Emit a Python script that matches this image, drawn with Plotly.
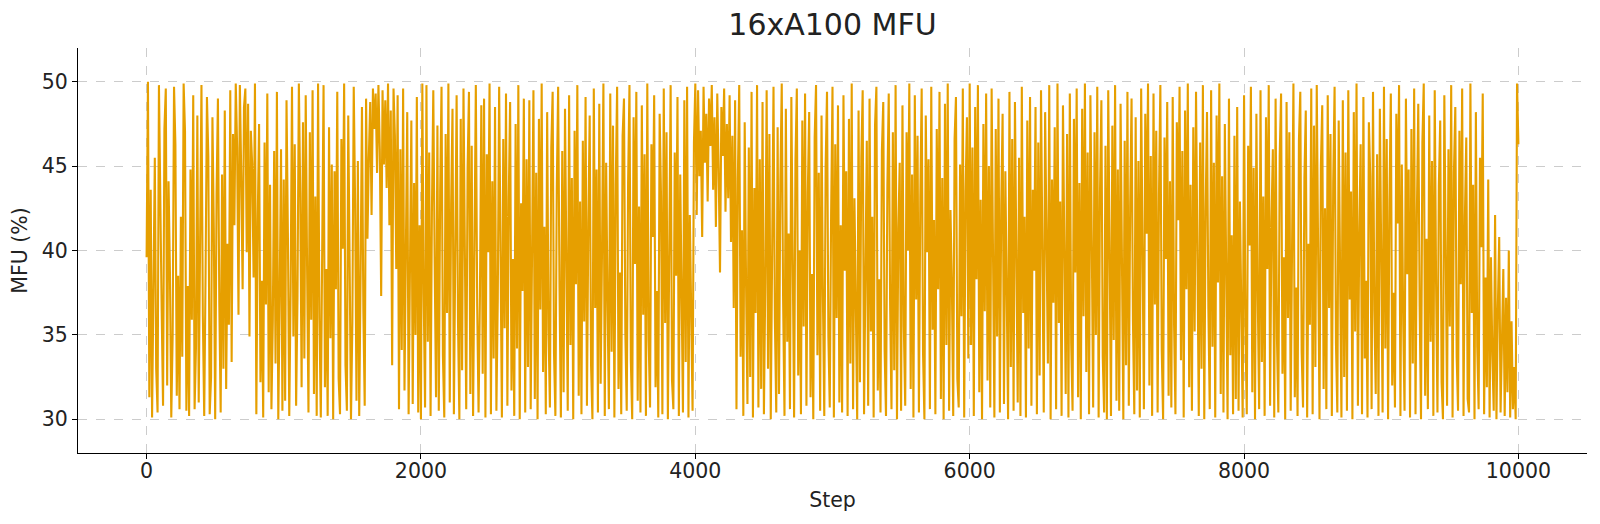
import numpy as np
import plotly.graph_objects as go

title_text = "16xA100 MFU"
x_label = "Step"
y_label = "MFU (%)"
x_ticks = [0, 2000, 4000, 6000, 8000, 10000]
y_ticks = [30, 35, 40, 45, 50]

# MFU (%), one value every 10 steps (0 .. 10000)
mfu = [
    39.6, 50.0, 31.3, 43.6, 30.1, 36.2, 45.5, 33.0, 30.4, 49.8, 41.2, 36.4, 30.8, 47.2, 49.6, 32.0, 44.1, 38.8, 30.1, 35.0, 49.7, 46.3, 31.4, 38.5, 30.6,
    42.0, 33.7, 49.9, 47.1, 30.5, 37.9, 30.2, 44.8, 35.9, 49.2, 30.6, 34.3, 48.0, 31.0, 43.0, 49.8, 36.1, 30.2, 38.7, 49.1, 45.6, 30.3, 32.5, 47.9, 41.3,
    30.0, 43.3, 49.0, 36.9, 30.4, 44.5, 33.0, 48.3, 31.8, 40.4, 35.6, 49.5, 33.4, 46.9, 41.5, 49.9, 46.1, 36.2, 49.8, 44.4, 37.7, 48.5, 49.6, 39.9, 48.7,
    34.9, 47.1, 45.0, 38.4, 49.9, 30.3, 41.7, 47.5, 32.2, 38.2, 30.1, 46.4, 36.8, 49.3, 31.6, 43.9, 30.6, 35.8, 45.9, 33.3, 49.4, 30.0, 37.1, 46.0, 30.5,
    44.2, 31.1, 48.9, 41.0, 30.2, 37.6, 49.7, 34.9, 46.3, 30.8, 37.2, 49.9, 43.4, 31.9, 47.6, 33.6, 49.2, 39.0, 30.4, 47.0, 35.9, 49.5, 31.5, 43.2, 30.2,
    49.9, 36.0, 30.1, 42.3, 49.8, 31.9, 38.9, 30.2, 47.3, 34.8, 45.1, 30.0, 44.7, 37.7, 49.4, 32.4, 30.3, 46.6, 40.1, 49.9, 33.2, 30.5, 48.0, 39.4, 30.0,
    35.7, 49.7, 42.8, 31.1, 45.3, 30.2, 38.5, 48.5, 36.5, 30.8, 49.0, 40.7, 45.5, 48.8, 42.1, 49.6, 47.2, 49.3, 44.6, 49.8, 46.0, 37.3, 49.5, 45.1, 48.9,
    43.7, 49.9, 41.5, 48.3, 33.2, 49.6, 46.8, 38.9, 49.2, 30.6, 46.0, 34.1, 49.6, 31.7, 41.9, 48.2, 30.3, 38.4, 47.7, 30.9, 44.0, 35.0, 49.1, 30.4, 41.5,
    30.0, 49.9, 37.4, 30.7, 49.8, 34.6, 45.8, 30.2, 42.4, 49.5, 39.3, 31.3, 47.4, 30.5, 43.5, 49.7, 33.8, 30.1, 46.9, 36.3, 49.9, 31.0, 42.7, 48.4, 30.3,
    40.2, 49.2, 35.8, 30.0, 47.8, 32.9, 49.6, 38.1, 30.6, 44.9, 49.4, 31.5, 46.2, 30.2, 41.1, 49.8, 36.7, 30.4, 37.3, 48.6, 32.7, 49.0, 30.1, 45.7, 39.9,
    49.9, 30.3, 44.1, 33.6, 48.5, 30.5, 37.2, 49.7, 41.9, 30.1, 46.6, 35.4, 49.3, 30.8, 43.0, 48.8, 31.7, 39.5, 30.2, 47.5, 34.2, 49.8, 30.0, 42.8, 37.6,
    49.0, 30.4, 45.4, 33.1, 48.9, 30.6, 38.3, 49.5, 31.2, 44.6, 30.0, 47.8, 36.5, 49.9, 32.8, 41.4, 30.3, 48.2, 35.3, 30.7, 46.1, 49.4, 33.9, 30.2, 43.6,
    49.7, 37.8, 30.1, 45.9, 31.6, 48.4, 40.6, 30.5, 49.2, 34.4, 44.3, 30.0, 47.1, 38.0, 49.8, 31.4, 42.9, 30.3, 46.5, 35.8, 49.1, 30.8, 41.6, 48.0, 33.2,
    30.0, 49.6, 36.6, 44.8, 30.4, 48.7, 32.1, 40.1, 49.9, 30.2, 45.2, 37.0, 30.6, 49.3, 34.0, 47.4, 30.1, 43.9, 49.7, 31.8, 38.7, 30.3, 46.8, 49.0, 35.1,
    30.5, 44.0, 49.8, 33.5, 30.0, 47.9, 39.2, 49.4, 31.1, 42.6, 30.4, 48.6, 36.2, 45.7, 30.2, 49.9, 34.7, 30.7, 46.3, 40.8, 49.2, 31.9, 37.6, 30.1, 48.1,
    43.2, 30.3, 49.6, 35.7, 47.0, 30.0, 41.8, 49.8, 32.3, 30.6, 45.8, 38.5, 49.1, 30.2, 44.5, 36.9, 30.4, 48.9, 33.4, 49.7, 30.1, 42.1, 37.4, 30.5, 46.4,
    49.9, 42.1, 49.5, 44.4, 47.1, 40.8, 49.7, 45.2, 48.1, 42.9, 49.0, 46.2, 49.8, 43.6, 47.9, 41.4, 49.3, 44.9, 38.7, 48.5, 45.6, 49.6, 42.3, 47.5, 43.1,
    49.2, 40.5, 46.8, 36.6, 48.9, 30.6, 44.2, 49.8, 33.7, 41.2, 30.2, 47.6, 37.9, 30.9, 46.1, 32.5, 49.4, 30.1, 43.7, 36.3, 49.8, 30.7, 45.4, 31.8, 48.8,
    30.3, 38.1, 49.5, 33.0, 46.9, 30.0, 42.7, 49.7, 35.9, 30.4, 47.3, 31.5, 44.1, 49.9, 37.1, 30.2, 48.4, 34.6, 41.0, 30.6, 49.1, 36.4, 30.1, 45.3, 49.6,
    32.6, 40.0, 30.3, 47.7, 35.5, 49.3, 30.8, 43.4, 48.2, 31.3, 38.6, 30.0, 46.7, 49.8, 33.8, 44.6, 30.5, 48.0, 37.3, 30.2, 45.0, 49.4, 34.9, 30.7, 42.2,
    49.7, 30.1, 46.3, 36.0, 48.6, 31.0, 41.5, 30.4, 49.2, 38.8, 44.7, 30.2, 47.8, 33.3, 49.9, 30.6, 43.1, 36.7, 30.0, 48.3, 32.2, 45.5, 49.5, 30.3, 39.4,
    46.5, 30.8, 49.0, 35.2, 42.0, 30.1, 47.4, 49.7, 31.7, 38.3, 30.4, 45.9, 48.8, 34.1, 30.2, 43.8, 49.3, 36.8, 30.6, 47.0, 32.9, 49.8, 30.0, 41.3, 45.2,
    30.5, 48.6, 35.5, 30.8, 47.0, 40.0, 49.9, 31.8, 44.5, 30.1, 49.2, 37.1, 46.8, 30.4, 43.1, 49.6, 33.9, 30.0, 48.0, 39.9, 45.4, 30.6, 49.7, 35.3, 41.8,
    30.3, 47.2, 37.7, 49.4, 31.2, 44.3, 30.0, 48.7, 34.4, 49.9, 30.5, 42.4, 38.2, 30.2, 46.6, 49.1, 32.4, 30.7, 45.1, 36.1, 49.6, 30.1, 43.5, 47.9, 33.6,
    49.9, 34.4, 46.1, 30.2, 48.5, 38.3, 49.8, 31.6, 43.0, 30.0, 47.5, 36.4, 49.3, 32.3, 45.0, 30.7, 49.6, 40.3, 30.1, 47.2, 34.9, 49.0, 30.4, 42.6, 48.1,
    30.9, 44.7, 37.5, 30.0, 49.4, 33.1, 46.6, 30.5, 48.8, 39.1, 31.0, 45.5, 30.2, 49.7, 36.3, 42.0, 30.1, 47.7, 34.2, 49.1, 30.8, 43.6, 38.8, 48.5, 30.3,
    46.4, 32.6, 49.5, 37.9, 30.4, 48.2, 41.2, 33.3, 49.8, 30.0, 44.2, 36.9, 47.3, 30.6, 49.9, 35.7, 42.9, 30.2, 48.6, 39.7, 31.5, 46.9, 30.1, 49.3, 34.5,
    30.5, 47.8, 38.7, 49.6, 31.3, 44.0, 30.0, 48.4, 36.1, 49.9, 32.8, 45.8, 30.3, 49.2, 40.6, 30.7, 47.0, 35.0, 49.7, 30.1, 43.4, 48.9, 33.7, 30.4, 46.2,
    30.0, 49.5, 37.0, 30.2, 47.4, 34.7, 49.8, 31.1, 44.8, 30.5, 48.7, 39.2, 30.0, 46.5, 33.2, 49.4, 30.8, 42.7, 49.0, 35.9, 30.3, 47.9, 31.7, 45.3, 30.1,
    49.6, 38.4, 30.6, 48.1, 41.0, 49.9, 32.0, 45.6, 30.2, 49.3, 36.8, 47.1, 30.4, 43.3, 49.8, 34.1, 30.0, 46.7, 39.5, 48.8, 31.4, 44.1, 30.7, 49.1, 35.6,
    30.3, 47.6, 41.8, 49.7, 33.5, 45.9, 30.1, 48.3, 37.7, 49.9, 31.9, 43.9, 30.5, 47.3, 35.2, 49.4, 39.8, 30.2, 46.4, 33.0, 49.8, 30.0, 42.3, 48.2, 36.5,
    30.6, 49.5, 34.3, 45.2, 30.1, 48.0, 38.1, 49.9, 31.5, 44.4, 30.4, 47.5, 36.2, 30.0, 49.0, 33.8, 40.9, 30.3, 46.8, 31.2, 48.5, 30.5, 42.9, 36.9, 30.1,
    49.2, 35.4, 30.3, 46.2, 40.3, 49.7, 31.6, 44.9, 30.0, 48.1, 37.3, 30.6, 49.5, 33.4, 43.2, 30.2, 47.9, 38.9, 49.8, 30.8, 41.7, 46.0, 30.1, 49.0, 34.8,
    30.4, 45.6, 49.3, 32.7, 39.6, 30.0, 48.8, 36.0, 47.0, 30.5, 43.7, 49.9, 31.3, 37.8, 30.2, 46.5, 49.4, 34.0, 30.7, 44.3, 48.3, 30.1, 40.4, 35.6, 49.6,
    30.3, 47.4, 33.1, 49.8, 38.5, 30.0, 45.0, 48.6, 31.8, 42.5, 30.6, 49.2, 36.6, 46.9, 30.2, 44.0, 49.7, 34.5, 30.4, 47.7, 39.0, 30.1, 48.9, 32.5, 45.8,
    30.5, 49.5, 37.1, 43.5, 30.0, 48.2, 35.2, 49.9, 30.8, 41.1, 46.3, 30.3, 49.1, 33.6, 38.2, 30.1, 47.6, 44.4, 30.6, 49.4, 36.4, 31.5, 45.7, 30.2, 48.4,
    39.7, 30.4, 49.7, 34.2, 46.6, 30.0, 43.0, 49.3, 32.0, 37.5, 30.7, 48.1, 41.6, 49.8, 30.2, 45.1, 35.9, 30.5, 49.0, 38.6, 44.8, 30.1, 47.2, 33.3, 49.6,
    30.3, 42.2, 48.7, 36.7, 30.0, 46.4, 49.9, 31.4, 40.7, 30.6, 48.0, 34.6, 45.3, 30.2, 49.5, 37.9, 30.4, 43.8, 47.7, 32.2, 30.0, 49.2, 39.3, 30.8, 46.0,
    35.5, 49.8, 30.1, 44.6, 48.5, 33.7, 30.5, 47.1, 38.0, 49.6, 30.2, 42.0, 46.7, 31.2, 30.4, 49.9, 36.3, 43.9, 30.0, 48.2, 34.3, 30.6, 45.5, 40.2, 49.3,
    30.3, 38.4, 31.9, 44.2, 30.1, 39.6, 33.8, 30.5, 42.1, 30.0, 36.5, 40.8, 30.4, 34.7, 38.9, 30.2, 37.2, 31.6, 40.0, 30.1, 35.8, 30.6, 33.1, 30.0, 49.9,
    46.3,
]

steps = np.linspace(0, 10000, len(mfu))

fig = go.Figure()
fig.add_trace(go.Scatter(
    x=steps, y=mfu, mode="lines",
    line=dict(color="#E69F00", width=2.1),
    showlegend=False,
))

font_family = "DejaVu Sans, Liberation Sans, sans-serif"
text_color = "#222222"
axis_common = dict(
    showline=True, linecolor="black", linewidth=1.3, mirror=False,
    ticks="outside", ticklen=5, tickwidth=1.1, tickcolor="black",
    showgrid=True, gridcolor="#cccccc", griddash="dash", gridwidth=0.8,
    zeroline=False, automargin=False,
    tickfont=dict(family=font_family, size=20.5, color=text_color),
)

fig.update_layout(
    width=1600, height=524,
    margin=dict(l=70, r=21, t=40, b=79),
    paper_bgcolor="white", plot_bgcolor="white",
    title=dict(text=title_text, x=0.5, xref="paper", xanchor="center",
               y=0.968, yanchor="middle",
               font=dict(family=font_family, size=30, color=text_color)),
    xaxis=dict(range=[-500, 10500], tickvals=x_ticks, tickformat="d",
               ticklabelstandoff=-6,
               title=dict(text=x_label, standoff=10,
                          font=dict(family=font_family, size=20.5, color=text_color)),
               **axis_common),
    yaxis=dict(range=[28, 52], tickvals=y_ticks,
               title=dict(text=y_label, standoff=10,
                          font=dict(family=font_family, size=20.5, color=text_color)),
               **axis_common),
)

fig.write_html("out.html")
